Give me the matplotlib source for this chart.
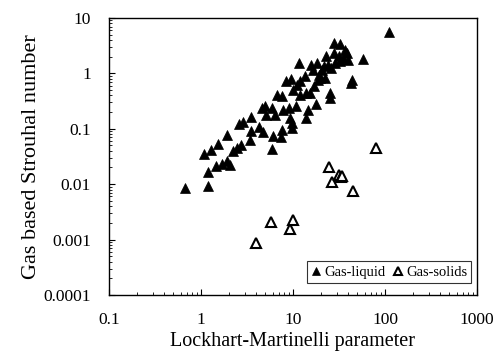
import matplotlib
matplotlib.use("Agg")
import matplotlib.pyplot as plt
from matplotlib.ticker import LogLocator, NullFormatter, FixedLocator, FixedFormatter

# Gas-liquid data (Lockhart-Martinelli parameter, gas based Strouhal number)
gl_x = [0.671, 1.20, 1.20, 1.09, 1.28, 1.54, 1.91, 1.45, 1.71, 1.91,
        2.08, 2.25, 2.49, 2.71, 2.60, 2.89, 3.41, 3.53, 3.53, 4.27,
        4.76, 4.64, 5.04, 4.92, 5.95, 6.10, 5.95, 6.31, 6.74, 7.33,
        7.51, 7.64, 7.83, 8.30, 9.02, 9.24, 9.55, 9.79, 9.79, 10.0,
        10.9, 11.1, 11.6, 11.9, 11.8, 13.6, 14.0, 14.0, 14.5, 15.2,
        15.5, 16.5, 17.1, 17.9, 18.2, 18.5, 19.0, 19.8, 20.7, 21.5,
        22.5, 23.0, 23.8, 25.0, 25.4, 25.9, 27.6, 28.1, 28.8, 31.3,
        32.1, 32.6, 34.9, 37.0, 38.5, 40.1, 42.6, 43.6, 58.3, 111]
gl_y = [0.0085, 0.0093, 0.0163, 0.0353, 0.0417, 0.0536, 0.078, 0.0217, 0.0233, 0.0257,
        0.0223, 0.0405, 0.0448, 0.050, 0.123, 0.132, 0.0615, 0.0895, 0.163, 0.107,
        0.086, 0.236, 0.179, 0.253, 0.043, 0.0726, 0.236, 0.179, 0.411, 0.0706,
        0.096, 0.384, 0.220, 0.716, 0.236, 0.156, 0.80, 0.126, 0.103, 0.507,
        0.253, 0.624, 1.54, 0.716, 0.411, 0.883, 0.156, 0.442, 0.220, 0.442,
        1.44, 1.16, 0.582, 0.283, 1.54, 0.769, 0.946, 0.824, 1.16, 1.34,
        0.824, 2.03, 1.44, 0.442, 0.358, 1.25, 2.33, 3.53, 1.54, 2.03,
        1.65, 3.43, 1.89, 2.68, 2.33, 1.77, 0.668, 0.769, 1.82, 5.58]

# Gas-solids data
gs_x = [3.93, 5.7, 9.25, 9.96, 24.4, 26.5, 31.3, 33.0, 34.5, 44.7, 80]
gs_y = [0.00086, 0.0021, 0.00154, 0.00226, 0.0208, 0.0109, 0.0148, 0.0137, 0.0142, 0.0076, 0.0448]

x_ticks = [0.1, 1, 10, 100, 1000]
x_labels = ["0.1", "1", "10", "100", "1000"]
y_ticks = [0.0001, 0.001, 0.01, 0.1, 1, 10]
y_labels = ["0.0001", "0.001", "0.01", "0.1", "1", "10"]

plt.rcParams['font.family'] = ['Liberation Serif', 'DejaVu Serif']

fig = plt.figure(figsize=(4.94, 3.52), dpi=100)
ax = fig.add_axes([0.2206, 0.162, 0.745, 0.787])

ax.plot(gl_x, gl_y, linestyle='none', marker='^', markersize=7.5,
        markerfacecolor='black', markeredgecolor='black', markeredgewidth=0.5,
        label='Gas-liquid')
ax.plot(gs_x, gs_y, linestyle='none', marker='^', markersize=7.5,
        markerfacecolor='white', markeredgecolor='black', markeredgewidth=1.5,
        label='Gas-solids')

ax.set_xscale('log')
ax.set_yscale('log')
ax.set_xlim(0.1, 1000)
ax.set_ylim(0.0001, 10)

ax.xaxis.set_major_locator(FixedLocator(x_ticks))
ax.xaxis.set_major_formatter(FixedFormatter(x_labels))
ax.yaxis.set_major_locator(FixedLocator(y_ticks))
ax.yaxis.set_major_formatter(FixedFormatter(y_labels))
ax.xaxis.set_minor_locator(LogLocator(base=10, subs=range(2, 10), numticks=20))
ax.yaxis.set_minor_locator(LogLocator(base=10, subs=range(2, 10), numticks=20))
ax.xaxis.set_minor_formatter(NullFormatter())
ax.yaxis.set_minor_formatter(NullFormatter())

ax.tick_params(axis='both', which='major', direction='in', length=4, width=0.8,
               labelsize=12.5)
ax.tick_params(axis='x', which='major', pad=12)
ax.tick_params(axis='y', which='major', pad=13)
ax.tick_params(axis='both', which='minor', direction='in', length=2.5, width=0.6)
ax.tick_params(top=False, right=False, which='both')

for s in ax.spines.values():
    s.set_linewidth(1.0)
    s.set_color('black')

ax.set_xlabel('Lockhart-Martinelli parameter', fontsize=14.5, labelpad=3)
ax.set_ylabel('Gas based Strouhal number', fontsize=16, labelpad=2)

leg = ax.legend(loc='lower right', ncol=2, fontsize=10.5, frameon=True, fancybox=False,
                edgecolor='black', handlelength=0.7, handletextpad=0.2,
                columnspacing=0.5, borderpad=0.3, markerscale=0.75,
                borderaxespad=0, bbox_to_anchor=(0.985, 0.043))
leg.get_frame().set_linewidth(0.8)

fig.savefig('out.png', dpi=100)
